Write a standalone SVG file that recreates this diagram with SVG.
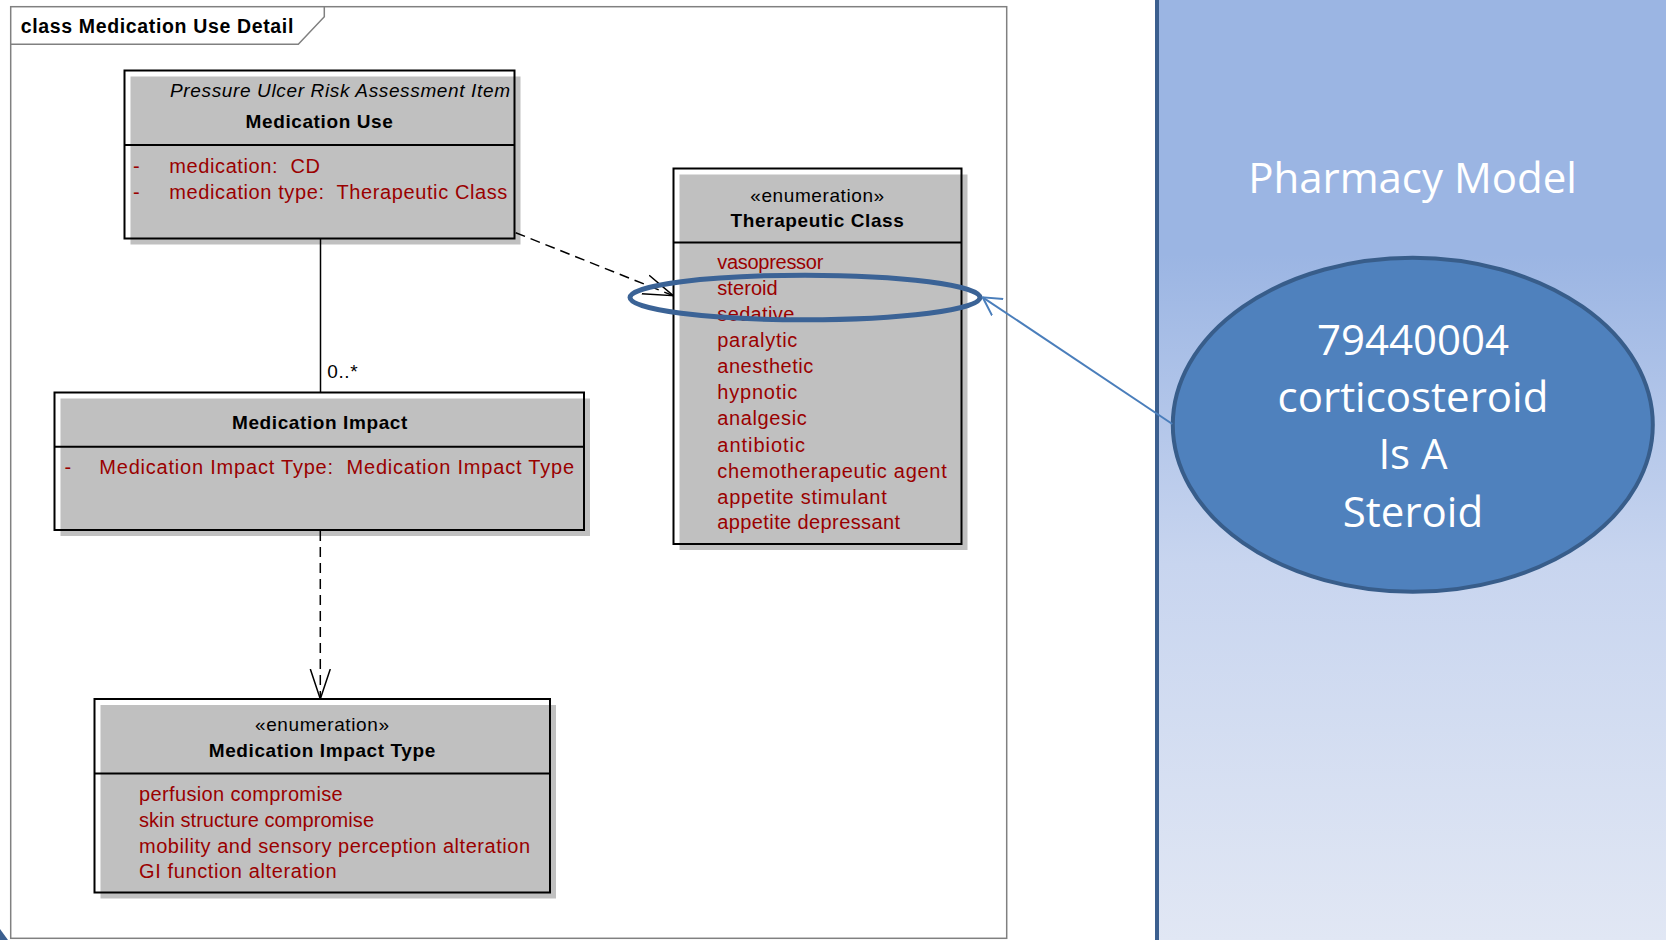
<svg xmlns="http://www.w3.org/2000/svg" width="1666" height="940" viewBox="0 0 1666 940">
<style>
.frame{fill:none;stroke:#808080;stroke-width:1.5}
.bg{fill:#ffffff}
.fill{fill:#c0c0c0}
.border{fill:none;stroke:#000;stroke-width:2}
.div{stroke:#000;stroke-width:2}
.t{font-family:"Liberation Sans",Arial,sans-serif;font-size:19px;letter-spacing:0.6px;fill:#000;white-space:pre}
.b{font-weight:bold}
.i{font-style:italic}
.r{fill:#9a0000;font-size:20px;letter-spacing:0}
.c{text-anchor:middle}
.conn{fill:none;stroke:#000;stroke-width:1.5}
.dash{stroke-dasharray:10 6}
.ov{font-family:"Open Sans","Noto Sans",sans-serif;fill:#fff;text-anchor:middle}
</style>
<defs>
<marker id="open" markerUnits="userSpaceOnUse" viewBox="0 0 31 22" refX="30" refY="11" markerWidth="31" markerHeight="22" orient="auto">
<path d="M0,1 L30,11 L0,21" fill="none" stroke="#000" stroke-width="1.5"/>
</marker>
<marker id="blueopen" markerUnits="userSpaceOnUse" viewBox="0 0 19 24" refX="18" refY="12" markerWidth="19" markerHeight="24" orient="auto">
<path d="M0,2 L18,12 L0,22" fill="none" stroke="#4a7ebb" stroke-width="2"/>
</marker>
<linearGradient id="panel" x1="0" y1="0" x2="0" y2="940" gradientUnits="userSpaceOnUse">
<stop offset="0" stop-color="#9bb5e3"/>
<stop offset="0.27" stop-color="#9bb5e3"/>
<stop offset="0.6" stop-color="#c8d5ef"/>
<stop offset="1" stop-color="#e1e7f4"/>
</linearGradient>
</defs>

<rect x="0" y="0" width="1666" height="940" fill="#ffffff"/>

<g id="frame">
<rect class="frame" x="10.7" y="6.7" width="996" height="931.6"/>
<path class="frame" d="M10.7,44.3 L298.3,44.3 L324.3,16.7 L324.3,6.7"/>
<text class="t b" x="20.7" y="33.3" style="font-size:19.5px;letter-spacing:0" textLength="272.6" lengthAdjust="spacing">class Medication Use Detail</text>
</g>

<g id="pharmacy-panel">
<rect x="1157" y="-2" width="512" height="946" fill="url(#panel)"/>
<line x1="1157" y1="-2" x2="1157" y2="942" stroke="#3b5f8f" stroke-width="4"/>
<text class="ov" x="1412.5" y="193" style="font-size:42px">Pharmacy Model</text>
</g>

<g id="medication-use">
<rect class="bg" x="124.5" y="70.5" width="390" height="168"/>
<rect class="fill" x="130.5" y="76.5" width="390" height="168"/>
<rect class="border" x="124.5" y="70.5" width="390" height="168"/>
<line class="div" x1="124.5" y1="145" x2="514.5" y2="145"/>
<text class="t i" x="170" y="96.7" style="letter-spacing:0" textLength="340" lengthAdjust="spacing">Pressure Ulcer Risk Assessment Item</text>
<text class="t b c" x="319.5" y="128.3">Medication Use</text>
<text class="t r" x="133" y="172.7">-</text>
<text class="t r" x="169.3" y="172.7" textLength="150.7" lengthAdjust="spacing">medication:  CD</text>
<text class="t r" x="133" y="199">-</text>
<text class="t r" x="169.3" y="199" textLength="338" lengthAdjust="spacing">medication type:  Therapeutic Class</text>
</g>

<g id="therapeutic-class">
<rect class="bg" x="673.5" y="168.5" width="288" height="375.5"/>
<rect class="fill" x="679.5" y="174.5" width="288" height="375.5"/>
<rect class="border" x="673.5" y="168.5" width="288" height="375.5"/>
<line class="div" x1="673.5" y1="242.5" x2="961.5" y2="242.5"/>
<text class="t c" x="817.5" y="201.7">«enumeration»</text>
<text class="t b c" x="817.5" y="227.3">Therapeutic Class</text>
<text class="t r" x="717.3" y="269.3" textLength="106" lengthAdjust="spacing">vasopressor</text>
<text class="t r" x="717.3" y="295.3" textLength="60.4" lengthAdjust="spacing">steroid</text>
<text class="t r" x="717.3" y="321.3" textLength="77" lengthAdjust="spacing">sedative</text>
<text class="t r" x="717.3" y="347.3" textLength="80" lengthAdjust="spacing">paralytic</text>
<text class="t r" x="717.3" y="373.3" textLength="96" lengthAdjust="spacing">anesthetic</text>
<text class="t r" x="717.3" y="399.3" textLength="80" lengthAdjust="spacing">hypnotic</text>
<text class="t r" x="717.3" y="425.3" textLength="89.4" lengthAdjust="spacing">analgesic</text>
<text class="t r" x="717.3" y="451.5" textLength="87.7" lengthAdjust="spacing">antibiotic</text>
<text class="t r" x="717.3" y="477.6" textLength="229.4" lengthAdjust="spacing">chemotherapeutic agent</text>
<text class="t r" x="717.3" y="503.5" textLength="169.4" lengthAdjust="spacing">appetite stimulant</text>
<text class="t r" x="717.3" y="529.4" textLength="182.7" lengthAdjust="spacing">appetite depressant</text>
</g>

<g id="medication-impact">
<rect class="bg" x="54.5" y="392.5" width="529.5" height="137.5"/>
<rect class="fill" x="60.5" y="398.5" width="529.5" height="137.5"/>
<rect class="border" x="54.5" y="392.5" width="529.5" height="137.5"/>
<line class="div" x1="54.5" y1="446.7" x2="584" y2="446.7"/>
<text class="t b c" x="320" y="429.3">Medication Impact</text>
<text class="t r" x="64.5" y="474">-</text>
<text class="t r" x="99.3" y="474" textLength="474.7" lengthAdjust="spacing">Medication Impact Type:  Medication Impact Type</text>
</g>

<g id="medication-impact-type">
<rect class="bg" x="94.5" y="699" width="455.5" height="193.5"/>
<rect class="fill" x="100.5" y="705" width="455.5" height="193.5"/>
<rect class="border" x="94.5" y="699" width="455.5" height="193.5"/>
<line class="div" x1="94.5" y1="773.5" x2="550" y2="773.5"/>
<text class="t c" x="322.3" y="730.7">«enumeration»</text>
<text class="t b c" x="322.3" y="756.7">Medication Impact Type</text>
<text class="t r" x="139" y="801" textLength="203.7" lengthAdjust="spacing">perfusion compromise</text>
<text class="t r" x="139" y="826.8" textLength="235" lengthAdjust="spacing">skin structure compromise</text>
<text class="t r" x="139" y="852.7" textLength="391" lengthAdjust="spacing">mobility and sensory perception alteration</text>
<text class="t r" x="139" y="878.4" textLength="197.7" lengthAdjust="spacing">GI function alteration</text>
</g>

<g id="concept">
<ellipse cx="1412.8" cy="424.8" rx="240" ry="167" fill="#4f81bd" stroke="#385d8a" stroke-width="4"/>
<text class="ov" x="1413" y="355" style="font-size:42px">79440004</text>
<text class="ov" x="1413" y="411.7" style="font-size:42px">corticosteroid</text>
<text class="ov" x="1413" y="469.3" style="font-size:42px">Is A</text>
<text class="ov" x="1413" y="526.7" style="font-size:42px">Steroid</text>
</g>

<g id="connectors">
<line class="conn" x1="320.5" y1="238.5" x2="320.5" y2="392.5"/>
<text class="t" x="327.3" y="378.3">0..*</text>
<path class="conn dash" d="M515.7,232.7 L673.3,295.7" marker-end="url(#open)"/>
<path class="conn dash" d="M320.3,531 L320.3,699" marker-end="url(#open)"/>
<ellipse id="highlight" cx="805" cy="297.5" rx="175" ry="22.3" fill="none" stroke="#3b6396" stroke-width="5"/>
<path d="M1172.3,424 L982.7,297.3" fill="none" stroke="#4a7ebb" stroke-width="2" marker-end="url(#blueopen)"/>
</g>

<polygon points="0,929 8,940 0,940" fill="#3b5f8f"/>
</svg>
